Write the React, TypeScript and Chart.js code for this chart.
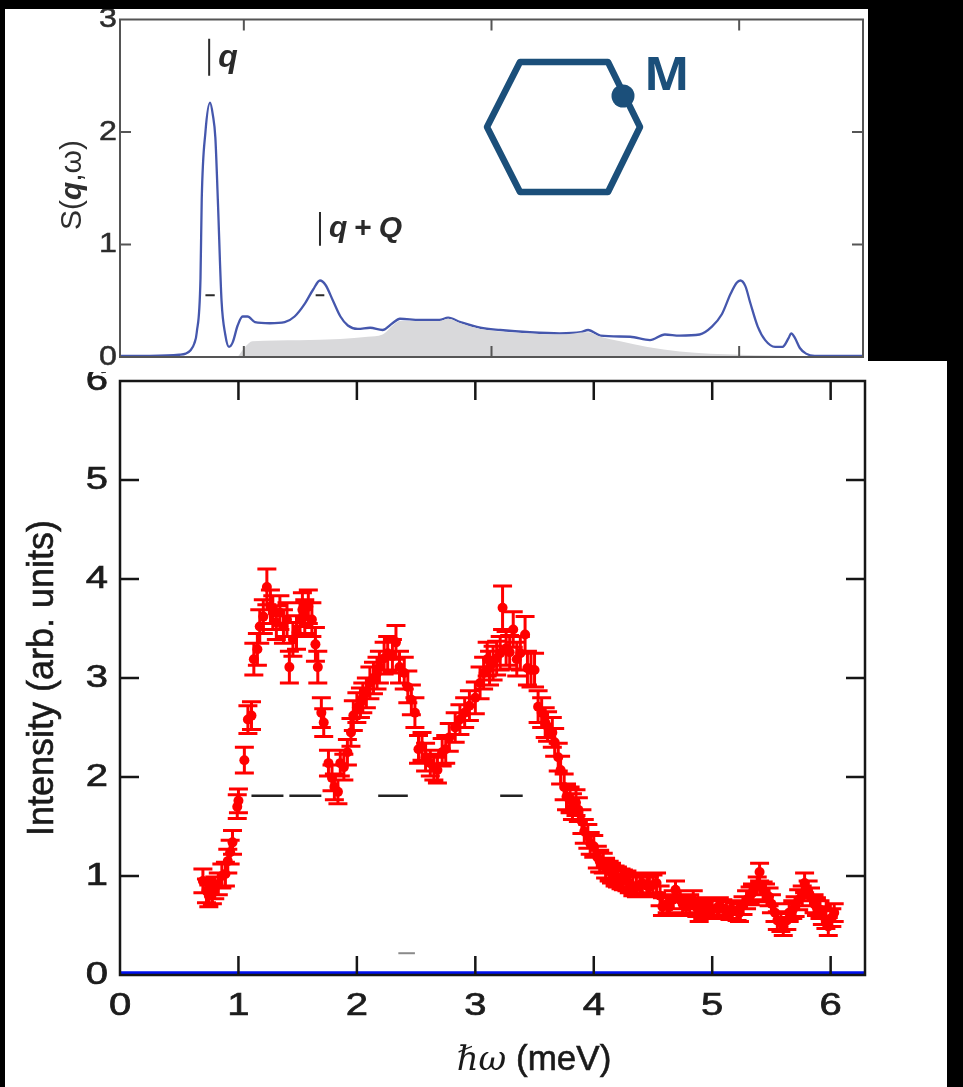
import React, { useEffect, useRef } from "react";
import { Chart, registerables } from "chart.js";
Chart.register(...registerables);

// ---------- top panel: calculated S(q,w) ----------
const topCurveX = [0, 0.24, 0.48, 0.53, 0.57, 0.60, 0.62, 0.65, 0.66, 0.69, 0.727, 0.75, 0.77, 0.79, 0.82, 0.85, 0.88, 0.91, 0.95, 0.99, 1.03, 1.09, 1.21, 1.33, 1.41, 1.49, 1.56, 1.615, 1.66, 1.72, 1.78, 1.84, 1.92, 2.02, 2.12, 2.20, 2.26, 2.42, 2.58, 2.65, 2.75, 2.91, 3.07, 3.31, 3.55, 3.72, 3.78, 3.88, 4.12, 4.28, 4.40, 4.52, 4.68, 4.78, 4.86, 4.93, 4.98, 5.01, 5.05, 5.09, 5.15, 5.21, 5.29, 5.35, 5.40, 5.42, 5.45, 5.49, 5.54, 5.61, 6.0];
const topCurveY = [0.01, 0.01, 0.02, 0.03, 0.06, 0.12, 0.22, 0.7, 1.4, 2.0, 2.26, 2.15, 1.95, 1.4, 0.5, 0.2, 0.09, 0.13, 0.28, 0.36, 0.36, 0.31, 0.30, 0.31, 0.36, 0.47, 0.60, 0.68, 0.64, 0.50, 0.36, 0.28, 0.25, 0.26, 0.24, 0.30, 0.34, 0.33, 0.33, 0.35, 0.31, 0.26, 0.24, 0.22, 0.21, 0.22, 0.24, 0.19, 0.18, 0.15, 0.20, 0.19, 0.20, 0.27, 0.38, 0.56, 0.66, 0.68, 0.63, 0.48, 0.27, 0.15, 0.09, 0.09, 0.17, 0.21, 0.17, 0.08, 0.03, 0.01, 0.01];
const shadeX = [0.95, 1.01, 1.07, 1.45, 1.78, 2.0, 2.12, 2.21, 2.26, 2.58, 2.65, 2.75, 2.91, 3.31, 3.55, 3.78, 3.88, 4.04, 4.26, 4.52, 5.01, 5.49, 6.0];
const shadeY = [0, 0.09, 0.14, 0.15, 0.16, 0.18, 0.20, 0.29, 0.32, 0.32, 0.34, 0.30, 0.25, 0.21, 0.20, 0.22, 0.18, 0.14, 0.09, 0.05, 0.02, 0.01, 0];
const topXTicks = [1, 3, 5];
const topYTicks = [1, 2];
const topYLabels = [0, 1, 2, 3];

// ---------- bottom panel: measured intensity ----------
const expX = [
  0.70, 0.73, 0.75, 0.78, 0.80, 0.83, 0.86, 0.89, 0.91, 0.93,
  0.95, 0.99, 1.00, 1.05, 1.08, 1.11, 1.13, 1.16, 1.18, 1.21,
  1.24, 1.27, 1.29, 1.32, 1.35, 1.38, 1.41, 1.43, 1.46, 1.49,
  1.52, 1.54, 1.56, 1.59, 1.62, 1.65, 1.67, 1.70, 1.72, 1.76,
  1.79, 1.81, 1.84, 1.86, 1.89, 1.92, 1.95, 1.97, 2.00, 2.03,
  2.05, 2.08, 2.11, 2.14, 2.17, 2.19, 2.23, 2.26, 2.30, 2.33,
  2.36, 2.40, 2.43, 2.46, 2.49, 2.52, 2.55, 2.58, 2.62, 2.65,
  2.68, 2.72, 2.75, 2.78, 2.83, 2.87, 2.91, 2.95, 3.00, 3.04,
  3.07, 3.10, 3.12, 3.15, 3.18, 3.21, 3.23, 3.26, 3.29, 3.32,
  3.35, 3.38, 3.42, 3.44, 3.47, 3.50, 3.53, 3.56, 3.59, 3.61,
  3.65, 3.67, 3.70, 3.72, 3.75, 3.77, 3.80, 3.82, 3.85, 3.87,
  3.90, 3.92, 3.95, 3.97, 4.00, 4.03, 4.05, 4.08, 4.10, 4.13,
  4.15, 4.18, 4.20, 4.23, 4.25, 4.28, 4.30, 4.33, 4.36, 4.39,
  4.41, 4.45, 4.47, 4.50, 4.53, 4.56, 4.58, 4.62, 4.64, 4.67,
  4.69, 4.73, 4.75, 4.78, 4.81, 4.84, 4.87, 4.89, 4.92, 4.95,
  4.98, 5.00, 5.04, 5.06, 5.09, 5.12, 5.15, 5.17, 5.21, 5.23,
  5.26, 5.29, 5.32, 5.34, 5.38, 5.40, 5.43, 5.45, 5.48, 5.50,
  5.53, 5.55, 5.58, 5.60, 5.63, 5.65, 5.68, 5.70, 5.73, 5.76,
  5.78, 5.81, 5.83, 5.86, 5.88, 5.91, 5.93, 5.96, 5.98, 6.01,
  6.03,
];
const expY = [
  0.95, 0.85, 0.80, 0.83, 0.88, 0.92, 1.00, 1.02, 1.15, 1.24,
  1.34, 1.70, 1.76, 2.17, 2.58, 2.62, 3.19, 3.29, 3.52, 3.62,
  3.92, 3.72, 3.66, 3.56, 3.66, 3.52, 3.59, 3.11, 3.39, 3.46,
  3.59, 3.69, 3.62, 3.72, 3.59, 3.34, 3.11, 2.65, 2.55, 2.14,
  1.99, 1.90, 1.85, 2.14, 2.10, 2.25, 2.45, 2.62, 2.70, 2.75,
  2.80, 2.85, 2.95, 3.00, 3.05, 3.11, 3.20, 3.25, 3.22, 3.36,
  3.11, 3.05, 2.91, 2.78, 2.65, 2.28, 2.31, 2.20, 2.14, 2.10,
  2.07, 2.25, 2.28, 2.40, 2.50, 2.58, 2.65, 2.72, 2.80, 2.95,
  3.05, 3.19, 3.10, 3.15, 3.20, 3.25, 3.71, 3.30, 3.26, 3.49,
  3.19, 3.25, 3.44, 3.10, 3.08, 3.08, 2.71, 2.65, 2.55, 2.51,
  2.45, 2.35, 2.20, 2.07, 1.90, 1.80, 1.77, 1.70, 1.74, 1.67,
  1.55, 1.45, 1.40, 1.33, 1.30, 1.19, 1.15, 1.13, 1.08, 1.05,
  1.03, 1.00, 0.99, 0.97, 0.96, 0.95, 0.93, 0.90, 0.89, 0.91,
  0.93, 0.90, 0.89, 0.91, 0.93, 0.80, 0.69, 0.72, 0.69, 0.76,
  0.86, 0.76, 0.72, 0.69, 0.72, 0.76, 0.68, 0.63, 0.66, 0.69,
  0.66, 0.66, 0.68, 0.69, 0.67, 0.66, 0.65, 0.66, 0.64, 0.63,
  0.70, 0.76, 0.80, 0.83, 0.90, 1.04, 0.85, 0.83, 0.79, 0.72,
  0.63, 0.55, 0.53, 0.49, 0.55, 0.63, 0.66, 0.69, 0.76, 0.80,
  0.93, 0.85, 0.79, 0.72, 0.69, 0.66, 0.60, 0.56, 0.49, 0.58,
  0.63,
];
const expErr = [
  0.12, 0.12, 0.11, 0.11, 0.11, 0.11, 0.12, 0.12, 0.12, 0.12,
  0.12, 0.12, 0.12, 0.13, 0.14, 0.14, 0.16, 0.16, 0.17, 0.17,
  0.18, 0.17, 0.17, 0.17, 0.17, 0.17, 0.17, 0.16, 0.17, 0.17,
  0.17, 0.17, 0.17, 0.17, 0.17, 0.17, 0.16, 0.15, 0.14, 0.13,
  0.13, 0.13, 0.12, 0.13, 0.13, 0.13, 0.14, 0.15, 0.15, 0.15,
  0.15, 0.15, 0.16, 0.16, 0.16, 0.16, 0.16, 0.17, 0.17, 0.17,
  0.16, 0.16, 0.16, 0.15, 0.15, 0.14, 0.14, 0.14, 0.13, 0.13,
  0.13, 0.14, 0.14, 0.14, 0.15, 0.15, 0.15, 0.15, 0.16, 0.16,
  0.16, 0.17, 0.17, 0.17, 0.17, 0.17, 0.22, 0.17, 0.17, 0.18,
  0.17, 0.17, 0.18, 0.17, 0.17, 0.17, 0.16, 0.15, 0.15, 0.15,
  0.15, 0.14, 0.14, 0.14, 0.13, 0.13, 0.13, 0.13, 0.13, 0.12,
  0.12, 0.12, 0.12, 0.11, 0.11, 0.11, 0.11, 0.10, 0.10, 0.10,
  0.10, 0.10, 0.10, 0.10, 0.10, 0.10, 0.10, 0.10, 0.10, 0.10,
  0.10, 0.10, 0.10, 0.10, 0.10, 0.10, 0.09, 0.09, 0.09, 0.09,
  0.09, 0.09, 0.09, 0.09, 0.09, 0.09, 0.09, 0.09, 0.09, 0.09,
  0.09, 0.09, 0.09, 0.09, 0.09, 0.09, 0.09, 0.09, 0.09, 0.09,
  0.09, 0.09, 0.09, 0.09, 0.09, 0.09, 0.09, 0.09, 0.09, 0.09,
  0.09, 0.09, 0.09, 0.09, 0.09, 0.09, 0.09, 0.10, 0.10, 0.10,
  0.10, 0.10, 0.09, 0.09, 0.09, 0.09, 0.09, 0.09, 0.09, 0.09,
  0.09,
];
const dashX = [1.11, 1.38, null, 1.43, 1.70, null, 2.18, 2.43, null, 3.21, 3.40];
const dashY = [1.81, 1.81, null, 1.81, 1.81, null, 1.81, 1.81, null, 1.81, 1.81];
const speckX = [2.35, 2.49];
const speckY = [0.22, 0.22];
const baseX = [0, 6.29];
const baseY = [0.02, 0.02];
const botXTicks = [1, 2, 3, 4, 5, 6];
const botYTicks = [1, 2, 3, 4, 5];
const botXLabels = [0, 1, 2, 3, 4, 5, 6];
const botYLabels = [0, 1, 2, 3, 4, 5, 6];

const zip = (xs: any[], ys: any[]) => xs.map((x, i) => ({ x: x === null ? NaN : x, y: ys[i] }));

function drawStretched(ctx: any, text: string, x: number, y: number, font: string, color: string, sx: number, align: string, weight = 0) {
  ctx.save();
  ctx.font = font;
  ctx.fillStyle = color;
  ctx.strokeStyle = color;
  ctx.textBaseline = "middle";
  ctx.textAlign = "left";
  const w = ctx.measureText(text).width * sx;
  const left = align === "center" ? x - w / 2 : align === "right" ? x - w : x;
  ctx.translate(left, y);
  ctx.scale(sx, 1);
  ctx.fillText(text, 0, 0);
  if (weight > 0) { ctx.lineWidth = weight; ctx.strokeText(text, 0, 0); }
  ctx.restore();
}

const framePlugin = {
  id: "frame",
  afterDatasetsDraw(chart: any, _a: any, o: any) {
    const { ctx, chartArea: a, scales } = chart;
    const xs = scales.x, ys = scales.y;
    ctx.save();
    ctx.strokeStyle = o.color;
    ctx.lineWidth = o.width;
    ctx.beginPath();
    for (const v of o.xTicks) {
      const px = xs.getPixelForValue(v);
      ctx.moveTo(px, a.top); ctx.lineTo(px, a.top + o.len);
      ctx.moveTo(px, a.bottom); ctx.lineTo(px, a.bottom - o.len);
    }
    for (const v of o.yTicks) {
      const py = ys.getPixelForValue(v);
      ctx.moveTo(a.left, py); ctx.lineTo(a.left + o.len, py);
      ctx.moveTo(a.right, py); ctx.lineTo(a.right - o.len, py);
    }
    ctx.stroke();
    ctx.strokeRect(a.left, a.top, a.right - a.left, a.bottom - a.top);
    ctx.restore();
    for (const v of o.yLabels) {
      drawStretched(ctx, String(v), o.yLabelX, ys.getPixelForValue(v), o.font, o.labelColor, o.sx, "right", o.weight);
    }
    for (const v of o.xLabels || []) {
      drawStretched(ctx, String(v), xs.getPixelForValue(v), a.bottom + o.xLabelDy, o.font, o.labelColor, o.sx, "center", o.weight);
    }
  },
};

const errorBarPlugin = {
  id: "errbars",
  beforeDatasetsDraw(chart: any) {
    const { ctx, scales } = chart;
    const xs = scales.x, ys = scales.y;
    chart.data.datasets.forEach((ds: any) => {
      if (!ds.errors) return;
      ctx.save();
      ctx.strokeStyle = ds.borderColor;
      ctx.lineWidth = 3;
      ctx.beginPath();
      ds.data.forEach((p: any, i: number) => {
        const e = ds.errors[i];
        const px = xs.getPixelForValue(p.x);
        const y1 = ys.getPixelForValue(p.y - e);
        const y2 = ys.getPixelForValue(p.y + e);
        ctx.moveTo(px, y1); ctx.lineTo(px, y2);
        ctx.moveTo(px - 9.5, y1); ctx.lineTo(px + 9.5, y1);
        ctx.moveTo(px - 9.5, y2); ctx.lineTo(px + 9.5, y2);
      });
      ctx.stroke();
      ctx.restore();
    });
  },
};

const TOP_OY = 9;
const topAnnotPlugin = {
  id: "topAnnot",
  afterDraw(chart: any) {
    const { ctx, scales } = chart;
    const xs = scales.x, ys = scales.y;
    const ink = "#2a2a2a";
    ctx.save();
    ctx.strokeStyle = ink;
    ctx.lineWidth = 2;
    ctx.beginPath();
    const qx = xs.getPixelForValue(0.72);
    ctx.moveTo(qx, ys.getPixelForValue(2.83)); ctx.lineTo(qx, ys.getPixelForValue(2.5));
    const qQx = xs.getPixelForValue(1.615);
    ctx.moveTo(qQx, ys.getPixelForValue(1.29)); ctx.lineTo(qQx, ys.getPixelForValue(0.99));
    const dy = ys.getPixelForValue(0.55);
    ctx.moveTo(xs.getPixelForValue(0.69), dy); ctx.lineTo(xs.getPixelForValue(0.765), dy);
    ctx.moveTo(xs.getPixelForValue(1.58), dy); ctx.lineTo(xs.getPixelForValue(1.65), dy);
    ctx.stroke();
    ctx.fillStyle = ink;
    ctx.textBaseline = "alphabetic";
    ctx.textAlign = "left";
    ctx.font = "italic bold 32px 'Liberation Sans'";
    ctx.fillText("q", qx + 9, ys.getPixelForValue(2.58));
    let tx = qQx + 9;
    const by = ys.getPixelForValue(1.07);
    ctx.font = "italic bold 30px 'Liberation Sans'";
    ctx.fillText("q", tx, by); tx += ctx.measureText("q").width + 7;
    ctx.font = "bold 30px 'Liberation Sans'";
    ctx.fillText("+", tx, by); tx += ctx.measureText("+").width + 7;
    ctx.font = "italic bold 30px 'Liberation Sans'";
    ctx.fillText("Q", tx, by);

    // y title S(q,w)
    ctx.save();
    ctx.translate(73, 185 - TOP_OY);
    ctx.rotate(-Math.PI / 2);
    const parts = [
      { t: "S(", f: "30px 'Liberation Sans'" },
      { t: "q", f: "italic bold 30px 'Liberation Sans'" },
      { t: ",ω)", f: "30px 'Liberation Sans'" },
    ];
    let tw = 0;
    parts.forEach((p) => { ctx.font = p.f; tw += ctx.measureText(p.t).width; });
    let cx = -tw / 2;
    ctx.fillStyle = "#2e2e2e";
    ctx.textBaseline = "middle";
    parts.forEach((p) => { ctx.font = p.f; ctx.fillText(p.t, cx, 0); cx += ctx.measureText(p.t).width; });
    ctx.restore();

    // Brillouin-zone inset
    const blue = "#1b4f7a";
    const hex = [[520, 62], [608, 62], [640, 127], [608, 192], [520, 192], [487, 127]];
    ctx.strokeStyle = blue;
    ctx.lineWidth = 6.5;
    ctx.lineJoin = "round";
    ctx.beginPath();
    hex.forEach((p, i) => (i ? ctx.lineTo(p[0], p[1] - TOP_OY) : ctx.moveTo(p[0], p[1] - TOP_OY)));
    ctx.closePath();
    ctx.stroke();
    ctx.fillStyle = blue;
    ctx.beginPath();
    ctx.arc(623, 96 - TOP_OY, 11.5, 0, Math.PI * 2);
    ctx.fill();
    ctx.font = "bold 46px 'Open Sans'";
    ctx.textBaseline = "alphabetic";
    ctx.save();
    ctx.translate(644, 90 - TOP_OY);
    ctx.scale(1.05, 1);
    ctx.fillText("M", 0, 0);
    ctx.restore();
    ctx.restore();
  },
};

const botTitlePlugin = {
  id: "botTitles",
  afterDraw(chart: any) {
    const { ctx } = chart;
    const OY = 361;
    ctx.save();
    ctx.fillStyle = "#1a1a1a";
    ctx.strokeStyle = "#1a1a1a";
    ctx.lineWidth = 0.6;
    // y title
    ctx.save();
    ctx.translate(43, 678 - OY);
    ctx.rotate(-Math.PI / 2);
    ctx.font = "36px 'Liberation Sans'";
    ctx.textAlign = "center";
    ctx.textBaseline = "middle";
    ctx.fillText("Intensity (arb. units)", 0, 0);
    ctx.strokeText("Intensity (arb. units)", 0, 0);
    ctx.restore();
    // x title
    ctx.textBaseline = "alphabetic";
    ctx.textAlign = "left";
    const f1 = "italic 34px 'DejaVu Serif'";
    const f2 = "35px 'Liberation Sans'";
    ctx.font = f1; const w1 = ctx.measureText("ℏω").width;
    ctx.font = f2; const w2 = ctx.measureText(" (meV)").width;
    const x0 = 534 - (w1 + w2) / 2;
    ctx.font = f1; ctx.fillText("ℏω", x0, 1070 - OY);
    ctx.font = f2; ctx.fillText(" (meV)", x0 + w1, 1070 - OY);
    ctx.strokeText(" (meV)", x0 + w1, 1070 - OY);
    ctx.restore();
  },
};

function TopPanel() {
  const ref = useRef<HTMLCanvasElement>(null);
  useEffect(() => {
    const chart = new Chart(ref.current as any, {
      type: "scatter",
      data: {
        datasets: [
          { data: zip(shadeX, shadeY), showLine: true, fill: "origin", backgroundColor: "#d9d9db", borderWidth: 0, pointRadius: 0, cubicInterpolationMode: "monotone" } as any,
          { data: zip(topCurveX, topCurveY), showLine: true, fill: false, borderColor: "#4557ad", borderWidth: 2.3, pointRadius: 0, cubicInterpolationMode: "monotone" } as any,
        ],
      },
      options: {
        animation: false,
        responsive: false,
        events: [],
        layout: { padding: { left: 0, right: 100, top: 10.5, bottom: 0 } },
        scales: {
          x: { type: "linear", min: 0, max: 6, grid: { display: false }, border: { display: false }, ticks: { display: false }, afterFit: (s: any) => { s.height = 15; } },
          y: { type: "linear", min: 0, max: 3, grid: { display: false }, border: { display: false }, ticks: { display: false }, afterFit: (s: any) => { s.width = 120; } },
        },
        plugins: {
          legend: { display: false },
          tooltip: { enabled: false },
          frame: { color: "#555", width: 2, len: 11, xTicks: topXTicks, yTicks: topYTicks, yLabels: topYLabels, yLabelX: 117, font: "28px 'Liberation Sans'", labelColor: "#2c2c2c", sx: 1.15, weight: 0.5 },
        } as any,
      },
      plugins: [framePlugin, topAnnotPlugin],
    });
    return () => chart.destroy();
  }, []);
  return <canvas ref={ref} width={963} height={363} style={{ position: "absolute", left: 0, top: TOP_OY, width: 963, height: 363 }} />;
}

function BottomPanel() {
  const ref = useRef<HTMLCanvasElement>(null);
  useEffect(() => {
    const chart = new Chart(ref.current as any, {
      type: "scatter",
      data: {
        datasets: [
          { data: zip(baseX, baseY), showLine: true, borderColor: "#0010f0", borderWidth: 3.5, pointRadius: 0 } as any,
          { data: zip(dashX, dashY), showLine: true, spanGaps: false, borderColor: "#222", borderWidth: 2.5, pointRadius: 0 } as any,
          { data: zip(speckX, speckY), showLine: true, borderColor: "#8a8a8a", borderWidth: 2, pointRadius: 0 } as any,
          { data: zip(expX, expY), errors: expErr, showLine: false, borderColor: "#ff0000", backgroundColor: "#ff0000", pointRadius: 5, pointBorderWidth: 0 } as any,
        ],
      },
      options: {
        animation: false,
        responsive: false,
        events: [],
        layout: { padding: { left: 0, right: 98, top: 20, bottom: 0 } },
        scales: {
          x: { type: "linear", min: 0, max: 6.29, grid: { display: false }, border: { display: false }, ticks: { display: false }, afterFit: (s: any) => { s.height = 112; } },
          y: { type: "linear", min: 0, max: 6, grid: { display: false }, border: { display: false }, ticks: { display: false }, afterFit: (s: any) => { s.width = 120; } },
        },
        plugins: {
          legend: { display: false },
          tooltip: { enabled: false },
          frame: { color: "#161616", width: 2.5, len: 19, xTicks: botXTicks, yTicks: botYTicks, yLabels: botYLabels, yLabelX: 108, xLabels: botXLabels, xLabelDy: 31, font: "32px 'Liberation Sans'", labelColor: "#1c1c1c", sx: 1.25, weight: 0.7 },
        } as any,
      },
      plugins: [errorBarPlugin, framePlugin, botTitlePlugin],
    });
    return () => chart.destroy();
  }, []);
  return <canvas ref={ref} width={963} height={726} style={{ position: "absolute", left: 0, top: 361, width: 963, height: 726 }} />;
}

export default function App() {
  useEffect(() => {
    document.body.style.margin = "0";
    document.body.style.background = "#000";
  }, []);
  return (
    <div style={{ position: "relative", width: 963, height: 1087, background: "#000", overflow: "hidden" }}>
      <div style={{ position: "absolute", left: 5, top: 361, width: 942, height: 726, background: "#fff" }} />
      <BottomPanel />
      <div style={{ position: "absolute", left: 5, top: 9, width: 863, height: 352, background: "#fff" }} />
      <div style={{ position: "absolute", left: 5, top: 361, width: 113, height: 11, background: "#fff" }} />
      <TopPanel />
    </div>
  );
}
